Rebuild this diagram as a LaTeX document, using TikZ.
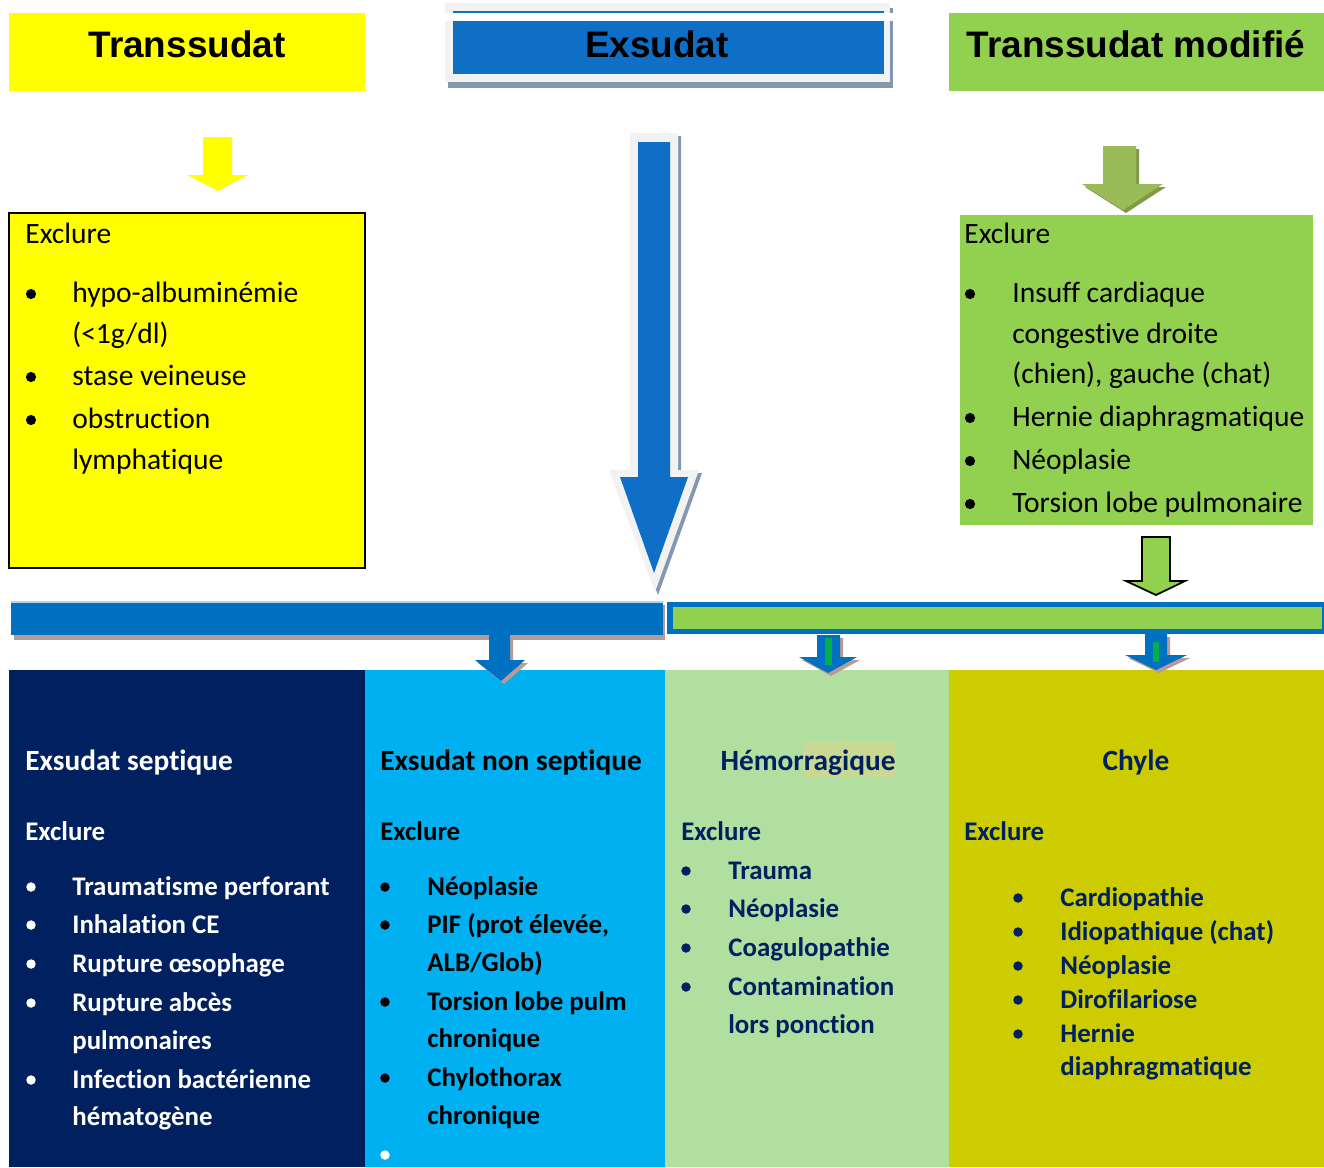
\documentclass[tikz,border=0pt]{standalone}
\usepackage{fontspec}
\setmainfont[Ligatures=NoCommon]{Carlito}
\newfontfamily\titlefont{Liberation Sans}
\usepackage{xcolor}
\usepackage{tikz}

\definecolor{jaune}{HTML}{FFFF00}
\definecolor{vert}{HTML}{92D050}
\definecolor{olive}{HTML}{9BBB59}
\definecolor{oliveombre}{HTML}{7F9A48}
\definecolor{bleu}{HTML}{0070C0}
\definecolor{bleuvif}{HTML}{0F6FC6}
\definecolor{gris}{HTML}{F2F2F2}
\definecolor{ombre}{HTML}{8497B0}
\definecolor{ombrebrune}{HTML}{B89A98}
\definecolor{marine}{HTML}{002060}
\definecolor{ciel}{HTML}{00B0F0}
\definecolor{pistache}{HTML}{B1DF9F}
\definecolor{kaki}{HTML}{CCCC00}
\definecolor{surligne}{HTML}{C9D994}
\definecolor{vertfonce}{HTML}{00B050}

\tikzset{
  titre/.style={font=\titlefont\bfseries\fontsize{21}{25}\selectfont, anchor=base, inner sep=0},
  txt/.style={font=\fontsize{16.8}{20}\selectfont, anchor=base west, inner sep=0},
  entete/.style={font=\bfseries\fontsize{16.7}{20}\selectfont, anchor=base west, inner sep=0},
  gras/.style={font=\bfseries\fontsize{15.3}{18}\selectfont, anchor=base west, inner sep=0},
}

\begin{document}
\begin{tikzpicture}[x=0.02cm, y=-0.02cm]
  \useasboundingbox (0,0) rectangle (1324,1167);
  %% headers
  \fill[jaune] (9,13) rectangle (365,91);
  \node[titre] (trans) at (187,57) {Transsudat};
  \fill[ombre] (448,8) rectangle (893,88);
  \fill[gris] (445,3) rectangle (890,82);
  \fill[bleuvif] (453,11) rectangle (884,13);
  \fill[white] (445,13) rectangle (893,21);
  \fill[bleuvif] (453,21) rectangle (884,74);
  \node[titre] (exs) at (657,57) {Exsudat};
  \fill[vert] (949,13) rectangle (1324,91);
  \node[titre] (transmod) at (1136,57) {Transsudat modifié};

  %% arrows below the headers
  \fill[jaune] (203,137) -- (232,137) -- (232,175) -- (248,175) -- (218,191)
    -- (187,175) -- (203,175) -- cycle;
  \fill[ombre] (633,136) -- (681,136) -- (681,473) -- (702,473) -- (658,595)
    -- (612,473) -- (633,473) -- cycle;
  \fill[gris] (630,133) -- (678,133) -- (678,470) -- (699,470) -- (655,592)
    -- (609,470) -- (630,470) -- cycle;
  \fill[bleuvif] (638,142) -- (670,142) -- (670,477) -- (688,477) -- (654,573)
    -- (620,477) -- (638,477) -- cycle;
  \fill[oliveombre] (1106,149) -- (1139,149) -- (1139,187) -- (1166,187) -- (1126,213)
    -- (1085,187) -- (1106,187) -- cycle;
  \fill[olive] (1103,146) -- (1136,146) -- (1136,184) -- (1163,184) -- (1123,210)
    -- (1082,184) -- (1103,184) -- cycle;

  %% yellow box
  \filldraw[fill=jaune, draw=black, line width=1pt] (9,213) rectangle (365,568);
  \node[txt] (tr-exc) at (25,243) {Exclure};
  \node[txt] (tr-1) at (72,302) {hypo-albuminémie};
  \node[txt] (tr-1b) at (72,343) {(<1g/dl)};
  \node[txt] (tr-2) at (72,385) {stase veineuse};
  \node[txt] (tr-3) at (72,428) {obstruction};
  \node[txt] (tr-3b) at (72,469) {lymphatique};
  \foreach \y in {294,377,420}
    \fill (31,\y) circle (2.9pt);

  %% green box
  \fill[vert] (960,215) rectangle (1313,525);
  \node[txt] (tm-exc) at (964,243) {Exclure};
  \node[txt] (tm-1) at (1012,302) {Insuff cardiaque};
  \node[txt] (tm-1b) at (1012,343) {congestive droite};
  \node[txt] (tm-1c) at (1012,383) {(chien), gauche (chat)};
  \node[txt] (tm-2) at (1012,426) {Hernie diaphragmatique};
  \node[txt] (tm-3) at (1012,469) {Néoplasie};
  \node[txt] (tm-4) at (1012,512) {Torsion lobe pulmonaire};
  \foreach \y in {294,418,461,504}
    \fill (970,\y) circle (2.9pt);
  \filldraw[fill=vert, draw=black, line width=1pt] (1142,537) -- (1170,537) -- (1170,581)
    -- (1185,581) -- (1156,595) -- (1126,581) -- (1142,581) -- cycle;

  %% horizontal bar
  \fill[ombrebrune] (14,605) rectangle (665,640);
  \fill[bleu] (11,602) rectangle (663,635);
  \draw[white!70!bleu, line width=0.6pt] (11,602) -- (663,602);
  \fill[bleu] (667,602) rectangle (1324,634);
  \fill[vert] (673,607) rectangle (1322,629);

  %% four columns
  \fill[marine] (9,670) rectangle (365,1167);
  \fill[ciel] (365,670) rectangle (665,1167);
  \fill[pistache] (665,670) rectangle (949,1167);
  \fill[kaki] (949,670) rectangle (1324,1167);

  %% small arrows from the bar
  \fill[ombrebrune] (492,638) -- (513,638) -- (513,663) -- (528,663) -- (504,684)
    -- (478,663) -- (492,663) -- cycle;
  \fill[bleu] (489,635) -- (510,635) -- (510,660) -- (525,660) -- (501,681)
    -- (475,660) -- (489,660) -- cycle;
  \fill[ombrebrune] (820,638) -- (843,638) -- (843,660) -- (860,660) -- (831,676)
    -- (802,660) -- (820,660) -- cycle;
  \fill[bleu] (817,635) -- (840,635) -- (840,657) -- (857,657) -- (828,673)
    -- (799,657) -- (817,657) -- cycle;
  \fill[vertfonce] (825,638) rectangle (832,665);
  \fill[ombrebrune] (1148,637) -- (1170,637) -- (1170,658) -- (1190,658) -- (1159,673)
    -- (1128,658) -- (1148,658) -- cycle;
  \fill[bleu] (1145,634) -- (1167,634) -- (1167,655) -- (1187,655) -- (1156,670)
    -- (1125,655) -- (1145,655) -- cycle;
  \fill[vertfonce] (1153,642) rectangle (1159,662);

  %% septic exudate
  \begin{scope}[white]
    \node[entete, white] (sep) at (25,770) {Exsudat septique};
    \node[gras, white] (sep-exc) at (25,840) {Exclure};
    \node[gras, white] (sep-1) at (72,895) {Traumatisme perforant};
    \node[gras, white] (sep-2) at (72,933) {Inhalation CE};
    \node[gras, white] (sep-3) at (72,972) {Rupture œsophage};
    \node[gras, white] (sep-4) at (72,1011) {Rupture abcès};
    \node[gras, white] (sep-4b) at (72,1049) {pulmonaires};
    \node[gras, white] (sep-5) at (72,1088) {Infection bactérienne};
    \node[gras, white] (sep-5b) at (72,1125) {hématogène};
    \foreach \y in {887,925,964,1003,1080}
      \fill (31,\y) circle (2.7pt);
  \end{scope}

  %% non septic exudate
  \node[entete] (nsep) at (380,770) {Exsudat non septique};
  \node[gras] (nsep-exc) at (380,840) {Exclure};
  \node[gras] (nsep-1) at (427,895) {Néoplasie};
  \node[gras] (nsep-2) at (427,933) {PIF (prot élevée,};
  \node[gras] (nsep-2b) at (427,971) {ALB/Glob)};
  \node[gras] (nsep-3) at (427,1010) {Torsion lobe pulm};
  \node[gras] (nsep-3b) at (427,1047) {chronique};
  \node[gras] (nsep-4) at (427,1086) {Chylothorax};
  \node[gras] (nsep-4b) at (427,1124) {chronique};
  \foreach \y in {887,925,1002,1078}
    \fill (385,\y) circle (2.7pt);
  \fill[white] (385,1155) circle (2.7pt);

  %% haemorrhagic
  \fill[surligne] (803,742) rectangle (896,777);
  \node[entete, marine, anchor=base] (hem) at (808,770) {Hémorragique};
  \node[gras, marine] (hem-exc) at (681,840) {Exclure};
  \node[gras, marine] (hem-1) at (728,879) {Trauma};
  \node[gras, marine] (hem-2) at (728,917) {Néoplasie};
  \node[gras, marine] (hem-3) at (728,956) {Coagulopathie};
  \node[gras, marine] (hem-4) at (728,995) {Contamination};
  \node[gras, marine] (hem-4b) at (728,1033) {lors ponction};
  \foreach \y in {871,909,948,987}
    \fill[marine] (686,\y) circle (2.7pt);

  %% chylous
  \node[entete, marine, anchor=base] (chy) at (1136,770) {Chyle};
  \node[gras, marine] (chy-exc) at (964,840) {Exclure};
  \node[gras, marine] (chy-1) at (1060,906) {Cardiopathie};
  \node[gras, marine] (chy-2) at (1060,940) {Idiopathique (chat)};
  \node[gras, marine] (chy-3) at (1060,974) {Néoplasie};
  \node[gras, marine] (chy-4) at (1060,1008) {Dirofilariose};
  \node[gras, marine] (chy-5) at (1060,1042) {Hernie};
  \node[gras, marine] (chy-5b) at (1060,1075) {diaphragmatique};
  \foreach \y in {898,932,966,1000,1034}
    \fill[marine] (1018,\y) circle (2.7pt);
\end{tikzpicture}
\end{document}
